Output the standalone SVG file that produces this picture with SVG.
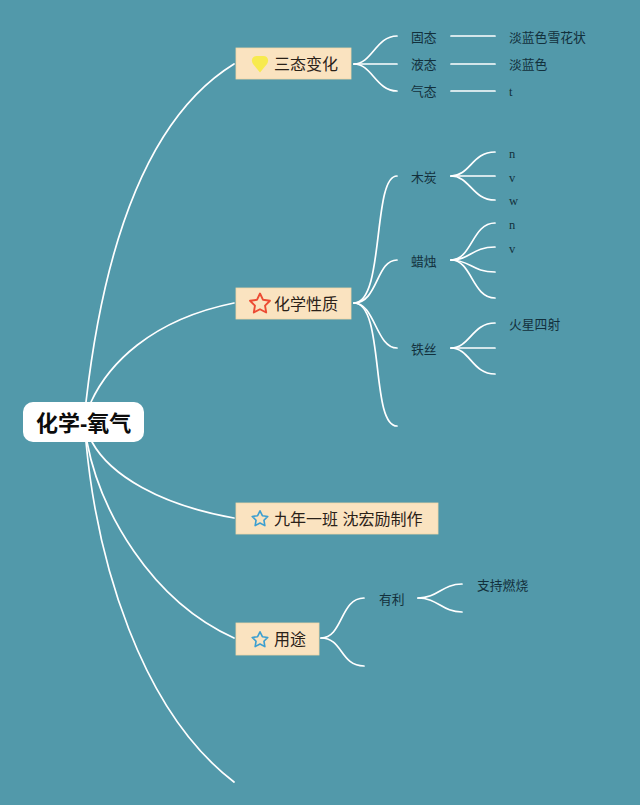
<svg xmlns="http://www.w3.org/2000/svg" width="640" height="805" viewBox="0 0 640 805">
<style>
.bg{fill:#5299aa}
.box{fill:#fae3c0;stroke:#f2d8a8;stroke-width:.8}
.root{fill:#fff}
.c{fill:none;stroke:#fff;stroke-width:1.7;stroke-linecap:round}
text{font-family:"Liberation Sans","Noto Sans CJK SC",sans-serif}
.t0{font-size:22px;font-weight:700;fill:#0c0c0c}
.t1{font-size:16px;fill:#2a2118}
.t2{font-size:12.8px;fill:#12303c}
.t3{font-family:"Liberation Serif","Noto Sans CJK SC",serif;font-size:12.5px;fill:#12303c}
.star{fill:none;stroke-linejoin:round}
</style>
<defs>
<path id="star" d="M0-10 2.9-4 9.5-3.1 4.8 1.5 5.9 8.1 0 5-5.9 8.1-4.8 1.5-9.5-3.1-2.9-4Z"/>
</defs>
<rect class="bg" width="640" height="805"/>
<g id="connectors">
<path class="c" d="M86 402C100 280 135 125 234 64"/>
<path class="c" d="M91 402C108 365 150 320 234 303"/>
<path class="c" d="M92 442C110 475 160 505 234 518"/>
<path class="c" d="M87 442C100 510 150 600 234 638"/>
<path class="c" d="M86 442C97 560 140 710 234 782"/>
<path class="c" d="M354 64C372 64 376 36 397 36"/>
<path class="c" d="M354 64H397"/>
<path class="c" d="M354 64C372 64 376 91 397 91"/>
<path class="c" d="M451 36H495"/>
<path class="c" d="M451 64H495"/>
<path class="c" d="M451 91H495"/>
<path class="c" d="M354 303C385 303 372 176 397 176"/>
<path class="c" d="M354 303C378 303 376 260 397 260"/>
<path class="c" d="M354 303C375 303 376 348 397 348"/>
<path class="c" d="M354 303C385 303 370 426 397 426"/>
<path class="c" d="M451 176C470 176 472 152 495 152"/>
<path class="c" d="M451 176H495"/>
<path class="c" d="M451 176C470 176 472 200 495 200"/>
<path class="c" d="M451 260C472 260 472 223 495 223"/>
<path class="c" d="M451 260C470 260 472 247 495 247"/>
<path class="c" d="M451 260C470 260 472 272 495 272"/>
<path class="c" d="M451 260C472 260 472 298 495 298"/>
<path class="c" d="M451 348C470 348 472 323 495 323"/>
<path class="c" d="M451 348H495"/>
<path class="c" d="M451 348C470 348 472 374 495 374"/>
<path class="c" d="M321 638C343 638 340 598 364 598"/>
<path class="c" d="M321 638C343 638 340 666 364 666"/>
<path class="c" d="M418 598C438 598 442 584 462 584"/>
<path class="c" d="M418 598C438 598 442 612 462 612"/>
</g>
<g id="root"><rect class="root" x="23" y="402" width="121" height="40" rx="10"/><text class="t0" x="36" y="431">化学-氧气</text></g>
<g id="node-state"><rect class="box" x="236" y="48" width="115" height="31"/>
<path d="M260 72.500 253 64C250.500 60 252.500 56 256.500 56H263.500C267.500 56 269.500 60 267 64Z" fill="#f7ea4e"/>
<text class="t1" x="274" y="70">三态变化</text></g>
<g id="node-chem"><rect class="box" x="236" y="288" width="115" height="31"/>
<use href="#star" class="star" transform="translate(260 304) scale(1.05)" stroke="#ec4b33" stroke-width="1.800"/>
<text class="t1" x="274" y="310">化学性质</text></g>
<g id="node-class"><rect class="box" x="236" y="503" width="202" height="31"/>
<use href="#star" class="star" transform="translate(260 519) scale(.82)" stroke="#3d9fd0" stroke-width="2"/>
<text class="t1" x="274" y="525">九年一班 沈宏励制作</text></g>
<g id="node-use"><rect class="box" x="236" y="623" width="83" height="32"/>
<use href="#star" class="star" transform="translate(260 640) scale(.82)" stroke="#3d9fd0" stroke-width="2"/>
<text class="t1" x="274" y="645">用途</text></g>
<g id="n-gu"><text class="t2" x="411" y="42">固态</text></g>
<g id="n-ye"><text class="t2" x="411" y="69">液态</text></g>
<g id="n-qi"><text class="t2" x="411" y="96">气态</text></g>
<g id="n-gu1"><text class="t2" x="509" y="42">淡蓝色雪花状</text></g>
<g id="n-ye1"><text class="t2" x="509" y="69">淡蓝色</text></g>
<g id="n-qi1"><text class="t3" x="509" y="96">t</text></g>
<g id="n-mu"><text class="t2" x="411" y="182">木炭</text></g>
<g id="n-la"><text class="t2" x="411" y="266">蜡烛</text></g>
<g id="n-tie"><text class="t2" x="411" y="354">铁丝</text></g>
<g id="n-m1"><text class="t3" x="509" y="158">n</text></g>
<g id="n-m2"><text class="t3" x="509" y="182">v</text></g>
<g id="n-m3"><text class="t3" x="509" y="205">w</text></g>
<g id="n-l1"><text class="t3" x="509" y="229">n</text></g>
<g id="n-l2"><text class="t3" x="509" y="253">v</text></g>
<g id="n-t1"><text class="t2" x="509" y="329">火星四射</text></g>
<g id="n-you"><text class="t2" x="379" y="604">有利</text></g>
<g id="n-zhi"><text class="t2" x="477" y="590">支持燃烧</text></g>
</svg>
